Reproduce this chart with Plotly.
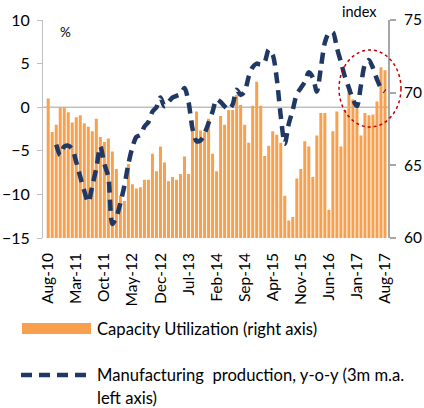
import plotly.graph_objects as go
import pandas as pd

# Monthly categories Aug-10 .. Aug-17
months = list(pd.date_range("2010-08-01", "2017-08-01", freq="MS").strftime("%b-%y"))

tick_labels = ["Aug-10", "Mar-11", "Oct-11", "May-12", "Dec-12", "Jul-13", "Feb-14",
               "Sep-14", "Apr-15", "Nov-15", "Jun-16", "Jan-17", "Aug-17"]

# Capacity utilization, index (right axis)
capacity_util = [
    69.6, 67.3, 67.8, 69.0, 69.0, 68.65, 67.95, 68.3, 68.45, 67.9,
    67.65, 67.35, 68.2, 66.95, 66.6, 66.85, 65.95, 64.75, 62.9, 62.55,
    65.1, 63.7, 63.4, 63.5, 64.0, 64.0, 65.8, 64.6, 66.3, 65.2,
    63.9, 64.2, 64.0, 64.4, 65.6, 64.4, 68.1, 68.7, 67.4, 67.3,
    68.2, 65.8, 64.6, 68.4, 67.8, 68.8, 68.8, 69.85, 69.15, 67.8,
    66.55, 69.1, 70.75, 69.1, 65.65, 66.35, 67.35, 67.1, 66.55, 62.9,
    61.2, 61.45, 64.1, 64.75, 66.65, 66.3, 64.2, 67.05, 68.6, 68.6,
    61.95, 67.35, 68.7, 66.3, 68.8, 70.55, 69.55, 68.9, 67.05, 68.6,
    68.45, 68.5, 69.4, 71.75, 71.55,
]

# Manufacturing production, y-o-y % (3m m.a., left axis)
mfg_yoy = [
    None, None, -4.3, -5.5, -4.5, -4.4, -4.8, -6.3, -8.0, -9.6,
    -10.9, -9.0, -7.0, -4.5, -6.5, -8.0, -13.4, -12.6, -11.0, -9.0,
    -6.5, -4.6, -3.4, -3.2, -2.2, -1.7, -0.5, 0.0, 1.1, 0.1,
    0.6, 1.1, 1.3, 1.5, 2.2, 0.6, -2.5, -3.9, -3.8, -3.0,
    -1.8, -0.5, 0.9, 0.6, 0.1, -0.3, 0.3, 2.0, 1.4, 1.8,
    3.5, 4.6, 5.0, 4.9, 5.2, 6.6, 6.0, 3.3, -1.0, -4.2,
    -1.9, -0.3, 1.5, 2.2, 2.9, 4.0, 3.4, 1.8, 4.5, 7.4,
    8.5, 8.6, 6.8, 5.2, 3.5, 2.2, 0.9, 0.1, 2.5, 4.9,
    5.4, 4.5, 3.2, 2.2, 1.8,
]

ORANGE = "#F9A04E"
NAVY = "#203864"
GRAY = "#A6A6A6"
FONT = "Lato"

# plot area in pixels: x 43..388, y 20..238 of a 424x408 page
L, R, T, B = 43, 36, 20, 170
PW, PH = 424 - L - R, 408 - T - B


def px(x):
    return (x - L) / PW


def py(y):
    return (408 - B - y) / PH


fig = go.Figure()
fig.add_trace(go.Bar(x=months, y=capacity_util, marker_color=ORANGE,
                     marker_line_width=0, yaxis="y",
                     name="Capacity Utilization (right axis)"))
fig.add_trace(go.Scatter(x=months, y=mfg_yoy, yaxis="y2", mode="lines",
                         line=dict(color=NAVY, width=4.5, dash="11px,7px",
                                   shape="spline", smoothing=0.8),
                         name="Manufacturing production, y-o-y"))

fig.update_layout(
    width=424, height=408,
    margin=dict(l=L, r=R, t=T, b=B, pad=0),
    paper_bgcolor="white", plot_bgcolor="white",
    showlegend=False, bargap=0.25,
    font=dict(family=FONT, size=16, color="#000000"),
    xaxis=dict(type="category", range=[-1.3, 84.75],
               tickmode="array", tickvals=tick_labels, ticktext=tick_labels,
               tickangle=-90, ticks="", showgrid=False, zeroline=False,
               showline=False, tickfont=dict(size=15.5, family=FONT),
               ticklabelstandoff=11, automargin=False),
    yaxis=dict(side="right", range=[60, 75], tickvals=[60, 65, 70, 75],
               showgrid=False, zeroline=False, showline=True,
               linecolor=GRAY, linewidth=2, ticks="outside", ticklen=6,
               tickcolor=GRAY, tickwidth=1.5, automargin=False,
               tickfont=dict(size=15.5, family=FONT), ticklabelstandoff=5),
    yaxis2=dict(overlaying="y", side="left", range=[-15, 10],
                tickvals=[-15, -10, -5, 0, 5, 10], automargin=False,
                showgrid=False, zeroline=False, showline=True,
                linecolor="#BFBFBF", linewidth=1, ticks="outside", ticklen=5,
                tickcolor="#BFBFBF", tickfont=dict(size=16, family=FONT),
                ticklabelstandoff=4),
)

# horizontal axis line at 0 (left scale), behind the bars
fig.add_shape(type="line", xref="paper", yref="y2", x0=0, x1=1, y0=0, y1=0,
              line=dict(color="#BFBFBF", width=1.5), layer="below")

# red dotted highlight ellipse
fig.add_shape(type="circle", xref="paper", yref="paper",
              x0=px(339), x1=px(401), y0=py(127), y1=py(50),
              line=dict(color="#C00000", width=1.5, dash="dot"))

# unit labels
fig.add_annotation(text="%", xref="paper", yref="paper", x=px(65), y=py(32),
                   xanchor="center", yanchor="middle",
                   showarrow=False, font=dict(size=13.5, family=FONT))
fig.add_annotation(text="index", xref="paper", yref="paper", x=px(359), y=py(11.5),
                   xanchor="center", yanchor="middle",
                   showarrow=False, font=dict(size=14.5, family=FONT))

# manual legend
fig.add_shape(type="rect", xref="paper", yref="paper",
              x0=px(22), x1=px(91), y0=py(334), y1=py(323),
              fillcolor=ORANGE, line=dict(width=0))
fig.add_annotation(text="Capacity Utilization (right axis)", xref="paper", yref="paper",
                   x=px(95), y=py(328.5), xanchor="left", yanchor="middle",
                   showarrow=False, font=dict(size=16.6, family=FONT))
fig.add_shape(type="line", xref="paper", yref="paper",
              x0=px(21), x1=px(91), y0=py(375), y1=py(375),
              line=dict(color=NAVY, width=4.5, dash="11px,7px"))
fig.add_annotation(text="Manufacturing  production, y-o-y (3m m.a.", xref="paper",
                   yref="paper", x=px(95), y=py(375), xanchor="left", yanchor="middle",
                   showarrow=False, font=dict(size=16.6, family=FONT))
fig.add_annotation(text="left axis)", xref="paper", yref="paper",
                   x=px(95), y=py(398), xanchor="left", yanchor="middle",
                   showarrow=False, font=dict(size=16.6, family=FONT))

fig.write_html("out.html", config={"displayModeBar": False},
               post_script="document.body.style.margin='0px';"
                           "document.body.style.overflow='hidden';")
